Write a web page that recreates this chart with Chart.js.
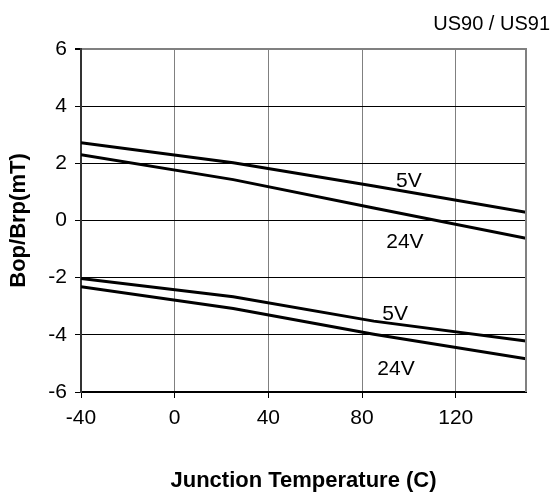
<!DOCTYPE html>
<html>
<head>
<meta charset="utf-8">
<script src="https://cdn.jsdelivr.net/npm/chart.js@4/dist/chart.umd.min.js"></script>
<style>
  body { margin: 0; background: #fff; }
  canvas { display: block; }
</style>
</head>
<body>
<canvas id="myChart" width="552" height="497"></canvas>
<script>
const temps = [-40, 25, 85, 150];
const bop5V = [2.72, 2.02, 1.21, 0.29];
const bop24V = [2.30, 1.43, 0.44, -0.62];
const brp5V = [-2.03, -2.67, -3.52, -4.22];
const brp24V = [-2.32, -3.08, -3.98, -4.84];

const xTicks = [-40, 0, 40, 80, 120];
const yTicks = [-6, -4, -2, 0, 2, 4, 6];

const labelTexts = ['5V', '24V', '5V', '24V'];
const labelX = [100, 98.3, 94.1, 94.5];
const labelY = [1.38, -0.75, -3.27, -5.2];

const FONT = "'Liberation Sans', Arial, sans-serif";

function points(ys) {
    return temps.map((t, i) => ({x: t, y: ys[i]}));
}

const lineStyle = {
    borderColor: '#000',
    borderWidth: 3,
    pointRadius: 0,
    tension: 0,
    fill: false
};

// frame edge (right side) is the last x tick, gray, no label
const isEdge = c => c.tick && !xTicks.includes(c.tick.value);

const curveLabels = {
    id: 'curveLabels',
    afterDatasetsDraw(chart) {
        const ctx = chart.ctx;
        const xs = chart.scales.x, ys = chart.scales.y;
        ctx.save();
        ctx.font = '21px ' + FONT;
        ctx.fillStyle = '#000';
        ctx.textAlign = 'center';
        ctx.textBaseline = 'middle';
        labelTexts.forEach((txt, i) => {
            ctx.fillText(txt, xs.getPixelForValue(labelX[i]), ys.getPixelForValue(labelY[i]));
        });
        ctx.restore();
    }
};

const frameAndCorner = {
    id: 'frameAndCorner',
    afterDraw(chart) {
        const c = chart.ctx;
        const a = chart.chartArea;
        c.save();
        // gray right frame line
        c.strokeStyle = '#808080';
        c.lineWidth = 2;
        c.beginPath();
        c.moveTo(a.right, a.top - 1);
        c.lineTo(a.right, a.bottom);
        c.stroke();
        // corner caption
        c.font = '20px ' + FONT;
        c.fillStyle = '#000';
        c.textAlign = 'right';
        c.textBaseline = 'middle';
        c.fillText('US90 / US91', 550, 24);
        c.restore();
    }
};

const ctx = document.getElementById('myChart');
new Chart(ctx, {
    type: 'line',
    data: {
        datasets: [
            {label: 'Bop 5V', data: points(bop5V), ...lineStyle},
            {label: 'Bop 24V', data: points(bop24V), ...lineStyle},
            {label: 'Brp 5V', data: points(brp5V), ...lineStyle},
            {label: 'Brp 24V', data: points(brp24V), ...lineStyle}
        ]
    },
    options: {
        responsive: false,
        animation: false,
        layout: {padding: {top: 49, left: 0, bottom: 0, right: 26}},
        plugins: {
            legend: {display: false},
            tooltip: {enabled: false},
            title: {display: false}
        },
        scales: {
            x: {
                type: 'linear',
                min: -40,
                max: 150,
                afterBuildTicks: s => { s.ticks = xTicks.concat([s.max]).map(v => ({value: v})); },
                afterFit: s => { s.height = 105; },
                grid: {
                    color: '#808080',
                    lineWidth: c => isEdge(c) ? 2 : 1,
                    tickLength: 6,
                    tickColor: c => isEdge(c) ? 'rgba(0,0,0,0)' : '#000'
                },
                border: {color: '#000', width: 2},
                ticks: {
                    color: '#000',
                    padding: 8,
                    maxRotation: 0,
                    autoSkip: false,
                    font: {family: FONT, size: 21},
                    callback: v => xTicks.includes(v) ? String(v) : ''
                },
                title: {
                    display: true,
                    text: 'Junction Temperature (C)',
                    color: '#000',
                    font: {family: FONT, size: 22, weight: 'bold'},
                    padding: {top: 3, bottom: 3}
                }
            },
            y: {
                min: -6,
                max: 6,
                afterBuildTicks: s => { s.ticks = yTicks.map(v => ({value: v})); },
                afterFit: s => { s.width = 81; },
                grid: {
                    color: c => (c.tick && c.tick.value === 6) ? '#808080' : '#000',
                    lineWidth: c => (c.tick && c.tick.value === 6) ? 2 : 1,
                    tickLength: 6,
                    tickColor: '#000'
                },
                border: {color: '#333', width: 2},
                ticks: {
                    color: '#000',
                    padding: 8,
                    font: {family: FONT, size: 21}
                },
                title: {
                    display: true,
                    text: 'Bop/Brp(mT)',
                    color: '#000',
                    font: {family: FONT, size: 22, weight: 'bold'},
                    padding: {top: 6, bottom: 6}
                }
            }
        }
    },
    plugins: [curveLabels, frameAndCorner]
});
</script>
</body>
</html>
